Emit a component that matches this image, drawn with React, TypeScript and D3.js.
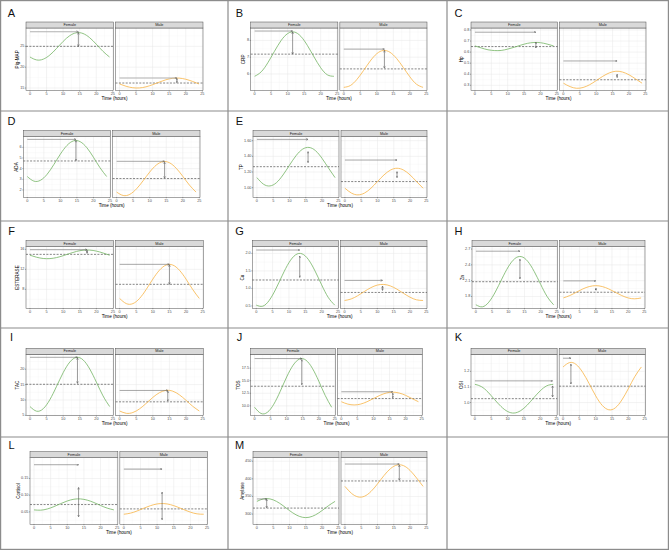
import React from "react";
import * as d3 from "d3";

// ---------- data ----------
const panelIds = ["A", "B", "C", "D", "E", "F", "G", "H", "I", "J", "K", "L", "M"];
const yTitles = ["Pig-MAP", "CRP", "Hp", "ADA", "TP", "ESTERASE", "Cu", "Zn", "TAC", "TOS", "OSI", "Cortisol", "Amylase"];
const facetNames = ["Female", "Male"];
const xTitle = "Time (hours)";
const hours = [0, 2, 4, 6, 8, 10, 12, 14, 16, 18, 20, 22, 24];
const xTicks = [0, 5, 10, 15, 20, 25];

const yTicks = [
  [15, 20, 25], [6, 7, 8], [0.3, 0.4, 0.5, 0.6, 0.7, 0.8], [2, 3, 4, 5, 6], [1.0, 1.2, 1.4, 1.6],
  [8, 12, 16], [0.5, 1.0, 1.5, 2.0], [1.8, 2.1, 2.4, 2.7], [5, 10, 15, 20], [10, 12.5, 15, 17.5],
  [1.0, 1.1, 1.2], [0.05, 0.1, 0.15], [300, 350, 400, 450],
];
const yTickDecimals = [0, 0, 1, 0, 2, 0, 1, 1, 0, 1, 1, 2, 0];
const yDomains = [
  [14.36, 29.4], [5.0, 8.74], [0.251, 0.818], [1.31, 7.0], [0.877, 1.651], [4.2, 16.53], [0.433, 2.19],
  [1.575, 2.745], [4.9, 24.84], [8.04, 20.25], [0.916, 1.309], [0.013, 0.212], [271, 460],
];

const femaleValues = [
  [22.44, 21.74, 21.92, 22.92, 24.48, 26.18, 27.56, 28.26, 28.08, 27.08, 25.52, 23.82, 22.44],
  [5.86, 6.13, 6.67, 7.35, 7.99, 8.41, 8.5, 8.24, 7.69, 7.01, 6.37, 5.95, 5.86],
  [0.656, 0.637, 0.621, 0.614, 0.615, 0.627, 0.644, 0.663, 0.679, 0.687, 0.685, 0.673, 0.656],
  [3.26, 2.83, 2.91, 3.47, 4.37, 5.36, 6.18, 6.61, 6.53, 5.97, 5.07, 4.08, 3.26],
  [1.128, 1.045, 1.022, 1.064, 1.162, 1.287, 1.408, 1.491, 1.514, 1.472, 1.374, 1.249, 1.128],
  [14.82, 14.42, 14.17, 14.15, 14.35, 14.73, 15.18, 15.58, 15.83, 15.85, 15.65, 15.27, 14.82],
  [0.524, 0.493, 0.662, 0.986, 1.378, 1.734, 1.956, 1.987, 1.818, 1.494, 1.102, 0.746, 0.524],
  [1.642, 1.603, 1.692, 1.885, 2.13, 2.362, 2.518, 2.557, 2.468, 2.275, 2.03, 1.798, 1.642],
  [7.87, 6.36, 7.18, 10.13, 14.41, 18.88, 22.33, 23.84, 23.02, 20.07, 15.79, 11.33, 7.87],
  [9.72, 8.49, 8.72, 10.33, 12.9, 15.74, 18.08, 19.31, 19.08, 17.47, 14.9, 12.06, 9.72],
  [1.117, 1.102, 1.067, 1.02, 0.975, 0.943, 0.933, 0.948, 0.983, 1.03, 1.075, 1.107, 1.117],
  [0.0561, 0.0552, 0.0588, 0.0659, 0.0747, 0.0827, 0.0879, 0.0888, 0.0852, 0.0781, 0.0693, 0.0613, 0.0561],
  [336.1, 343.1, 343.1, 336.1, 324.0, 310.0, 297.9, 290.9, 290.9, 297.9, 310.0, 324.0, 336.1],
];
const maleValues = [
  [15.98, 15.42, 15.07, 15.02, 15.29, 15.8, 16.42, 16.98, 17.33, 17.38, 17.11, 16.6, 15.98],
  [5.2, 5.31, 5.68, 6.21, 6.77, 7.21, 7.4, 7.29, 6.92, 6.39, 5.83, 5.39, 5.2],
  [0.319, 0.288, 0.273, 0.28, 0.305, 0.342, 0.381, 0.412, 0.427, 0.42, 0.395, 0.358, 0.319],
  [1.8, 1.48, 1.59, 2.1, 2.86, 3.68, 4.34, 4.66, 4.55, 4.04, 3.28, 2.46, 1.8],
  [0.993, 0.931, 0.908, 0.931, 0.993, 1.078, 1.163, 1.225, 1.248, 1.225, 1.163, 1.078, 0.993],
  [6.17, 5.14, 5.14, 6.17, 7.97, 10.04, 11.83, 12.86, 12.86, 11.83, 10.04, 7.97, 6.17],
  [0.656, 0.699, 0.791, 0.909, 1.02, 1.095, 1.114, 1.071, 0.979, 0.861, 0.75, 0.675, 0.656],
  [1.772, 1.818, 1.88, 1.943, 1.988, 2.005, 1.988, 1.943, 1.88, 1.818, 1.772, 1.755, 1.772],
  [6.43, 5.68, 5.94, 7.12, 8.91, 10.84, 12.38, 13.12, 12.87, 11.68, 9.89, 7.97, 6.43],
  [10.82, 10.35, 10.18, 10.35, 10.82, 11.45, 12.09, 12.55, 12.72, 12.55, 12.09, 11.45, 10.82],
  [1.228, 1.256, 1.244, 1.194, 1.121, 1.043, 0.982, 0.954, 0.966, 1.016, 1.089, 1.167, 1.228],
  [0.0431, 0.0463, 0.0529, 0.0611, 0.0687, 0.0738, 0.0749, 0.0717, 0.0651, 0.0569, 0.0493, 0.0442, 0.0431],
  [378.6, 359.0, 348.8, 350.6, 364.1, 385.6, 409.4, 429.0, 439.2, 437.4, 423.9, 402.4, 378.6],
];

const femaleMesor = [25, 7.18, 0.65, 4.72, 1.268, 15.0, 1.24, 2.08, 15.1, 13.9, 1.025, 0.072, 317];
const maleMesor = [16.2, 6.3, 0.35, 3.07, 1.078, 9.0, 0.885, 1.88, 9.4, 11.45, 1.105, 0.059, 394];
const femaleAcrophase = [14.6, 11.5, 18.6, 14.7, 15.7, 17.2, 13.3, 13.6, 14.3, 14.7, 23.8, 13.4, 3.0];
const maleAcrophase = [17.3, 12.3, 16.4, 14.5, 16.0, 15.0, 11.6, 10.0, 14.5, 16.0, 2.4, 11.5, 16.7];
const femaleArrowY = [28.5, 8.56, 0.78, 6.75, 1.617, 15.93, 2.095, 2.66, 23.87, 19.4, 1.139, 0.191, 343];
const maleArrowY = [17.4, 7.48, 0.52, 4.69, 1.353, 13.0, 1.229, 2.096, 13.1, 12.8, 1.284, 0.178, 442];
const femaleAmpArrow = [
  [25.0, 28.3], [7.18, 8.5], [0.637, 0.69], [4.75, 6.64], [1.32, 1.46], [15.2, 15.8], [1.314, 1.924],
  [2.135, 2.507], [15.4, 23.7], [14.2, 19.2], [1.036, 1.107], [0.0355, 0.123], [318, 342],
];
const maleAmpArrow = [
  [16.3, 17.3], [6.34, 7.4], [0.37, 0.4], [3.1, 4.6], [1.128, 1.204], [9.0, 12.9], [0.943, 1.067],
  [1.92, 1.95], [9.6, 12.9], [11.6, 12.5], [1.119, 1.246], [0.0267, 0.109], [396, 439],
];

// ---------- layout / style ----------
const W = 669;
const H = 550;
const rowTops = [0, 111, 221, 328, 437, 550];
const colLefts = [0, 228, 447, 669];
const panelRow = [0, 0, 0, 1, 1, 2, 2, 2, 3, 3, 3, 4, 4];
const panelCol = [0, 1, 2, 0, 1, 0, 1, 2, 0, 1, 2, 0, 1];
const rowStripTop = [22, 130.7, 240.7, 348.3, 451.7];
const rowPanelBottom = [90.7, 197.3, 308.3, 415.7, 524.3];
const rowLetterY = [13, 121, 231, 337, 445];
const panelXRange = [
  [26, 203], [250.7, 427], [471, 646], [23.3, 200], [253, 427], [26, 203.3], [252.3, 427],
  [472, 645], [26, 203.3], [250.7, 422.3], [471, 645.3], [30, 207.7], [253, 427],
];
const lightHArrow: Record<string, boolean[]> = { A: [true, true], L: [false, true] };
const STRIP_H = 6;
const GAP = 2;
const xDomain = [-1.2, 25.2];
const colors = ["#74b463", "#f8b445"];
const FONT = "'Liberation Sans', Arial, Helvetica, sans-serif";

function Panel({ i }: { i: number }) {
  const r = panelRow[i];
  const [x0, x1] = panelXRange[i];
  const fw = (x1 - x0 - GAP) / 2;
  const stripTop = rowStripTop[r];
  const top = stripTop + STRIP_H;
  const bottom = rowPanelBottom[r];
  const dom = yDomains[i];
  const y = d3.scaleLinear().domain(dom).range([bottom, top]);
  const ticks = yTicks[i];
  const fmt = d3.format(`.${yTickDecimals[i]}f`);
  const step = ticks[1] - ticks[0];
  const minorY: number[] = [];
  for (let v = ticks[0] - step / 2; v <= dom[1]; v += step) if (v >= dom[0]) minorY.push(v);
  const minorX = [2.5, 7.5, 12.5, 17.5, 22.5];
  const labels = ticks.map(fmt);
  const maxW = d3.max(labels, (l) => l.length * 2.1 - (l.includes(".") ? 1.05 : 0)) || 4;
  const titleX = x0 - 2 - maxW - 2.6;
  const vals = [femaleValues[i], maleValues[i]];
  const mesor = [femaleMesor[i], maleMesor[i]];
  const acro = [femaleAcrophase[i], maleAcrophase[i]];
  const arrY = [femaleArrowY[i], maleArrowY[i]];
  const amp = [femaleAmpArrow[i], maleAmpArrow[i]];
  const light = lightHArrow[panelIds[i]] || [false, false];

  return (
    <g>
      {[0, 1].map((f) => {
        const left = x0 + f * (fw + GAP);
        const x = d3.scaleLinear().domain(xDomain).range([left, left + fw]);
        const line = d3
          .line<number>()
          .x((_, k) => x(hours[k]))
          .y((d) => y(d))
          .curve(d3.curveNatural);
        const hc = light[f] ? "#b0b0b0" : "#6b6b6b";
        return (
          <g key={f}>
            <rect x={left} y={top} width={fw} height={bottom - top} fill="#fff" />
            {minorX.map((v) => (
              <line key={"mx" + v} x1={x(v)} x2={x(v)} y1={top} y2={bottom} stroke="#f2f2f2" strokeWidth={0.3} />
            ))}
            {minorY.map((v) => (
              <line key={"my" + v} x1={left} x2={left + fw} y1={y(v)} y2={y(v)} stroke="#f2f2f2" strokeWidth={0.3} />
            ))}
            {xTicks.map((v) => (
              <line key={"gx" + v} x1={x(v)} x2={x(v)} y1={top} y2={bottom} stroke="#e6e6e6" strokeWidth={0.5} />
            ))}
            {ticks.map((v) => (
              <line key={"gy" + v} x1={left} x2={left + fw} y1={y(v)} y2={y(v)} stroke="#e6e6e6" strokeWidth={0.5} />
            ))}
            <line x1={left} x2={left + fw} y1={y(mesor[f])} y2={y(mesor[f])} stroke="#333" strokeWidth={0.6} strokeDasharray="2,1.4" />
            <path d={line(vals[f]) || ""} fill="none" stroke={colors[f]} strokeWidth={0.8} />
            <line
              x1={x(0)} x2={x(acro[f])} y1={y(arrY[f])} y2={y(arrY[f])}
              stroke={hc} strokeWidth={light[f] ? 1.1 : 0.6}
              markerEnd={light[f] ? "url(#ahLight)" : "url(#ahDark)"}
            />
            <line
              x1={x(acro[f])} x2={x(acro[f])} y1={y(amp[f][0])} y2={y(amp[f][1])}
              stroke="#555" strokeWidth={0.6} markerStart="url(#ahDark)" markerEnd="url(#ahDark)"
            />
            <rect x={left} y={top} width={fw} height={bottom - top} fill="none" stroke="#4d4d4d" strokeWidth={0.5} />
            <rect x={left} y={stripTop} width={fw} height={STRIP_H} fill="#d9d9d9" stroke="#4d4d4d" strokeWidth={0.5} />
            <text x={left + fw / 2} y={stripTop + STRIP_H / 2} fontSize={3.8} fill="#1a1a1a" textAnchor="middle" dominantBaseline="central">
              {facetNames[f]}
            </text>
            {xTicks.map((v) => (
              <g key={"tx" + v}>
                <line x1={x(v)} x2={x(v)} y1={bottom} y2={bottom + 1} stroke="#333" strokeWidth={0.4} />
                <text x={x(v)} y={bottom + 3.4} fontSize={3.8} fill="#4d4d4d" textAnchor="middle" dominantBaseline="central">
                  {v}
                </text>
              </g>
            ))}
          </g>
        );
      })}
      {ticks.map((v, k) => (
        <g key={"ty" + v}>
          <line x1={x0 - 1} x2={x0} y1={y(v)} y2={y(v)} stroke="#333" strokeWidth={0.4} />
          <text x={x0 - 1.6} y={y(v)} fontSize={3.8} fill="#4d4d4d" textAnchor="end" dominantBaseline="central">
            {labels[k]}
          </text>
        </g>
      ))}
      <text
        x={titleX} y={(top + bottom) / 2} fontSize={4.6} fill="#000" textAnchor="middle" dominantBaseline="central"
        transform={`rotate(-90 ${titleX} ${(top + bottom) / 2})`}
      >
        {yTitles[i]}
      </text>
      <text x={(x0 + x1) / 2} y={bottom + 8.2} fontSize={4.6} fill="#000" textAnchor="middle" dominantBaseline="central">
        {xTitle}
      </text>
      <text
        x={colLefts[panelCol[i]] + 11.5} y={rowLetterY[r]} fontSize={11} fill="#111"
        textAnchor="middle" dominantBaseline="central"
      >
        {panelIds[i]}
      </text>
    </g>
  );
}

export default function App() {
  return (
    <svg
      width={W}
      height={H}
      viewBox={`0 0 ${W} ${H}`}
      style={{ position: "absolute", left: 0, top: 0, display: "block", background: "#fff" }}
      fontFamily={FONT}
    >
      <defs>
        <marker id="ahDark" viewBox="0 0 10 10" refX="9" refY="5" markerWidth="2.4" markerHeight="2.4" markerUnits="userSpaceOnUse" orient="auto-start-reverse">
          <path d="M1,1 L9,5 L1,9" fill="none" stroke="#555" strokeWidth={2} />
        </marker>
        <marker id="ahLight" viewBox="0 0 10 10" refX="9" refY="5" markerWidth="2.6" markerHeight="2.6" markerUnits="userSpaceOnUse" orient="auto-start-reverse">
          <path d="M1,1 L9,5 L1,9" fill="none" stroke="#666" strokeWidth={2} />
        </marker>
      </defs>
      <rect x={0} y={0} width={W} height={H} fill="#fff" />
      {panelIds.map((id, i) => (
        <Panel key={id} i={i} />
      ))}
      {rowTops.slice(1, 5).map((v) => (
        <line key={"rh" + v} x1={0} x2={W} y1={v} y2={v} stroke="#8c8c8c" strokeWidth={1.2} />
      ))}
      {colLefts.slice(1, 3).map((v) => (
        <line key={"cv" + v} x1={v} x2={v} y1={0} y2={H} stroke="#8c8c8c" strokeWidth={1.2} />
      ))}
      <rect x={0.6} y={0.6} width={W - 1.2} height={H - 1.2} fill="none" stroke="#8c8c8c" strokeWidth={1.2} />
    </svg>
  );
}
